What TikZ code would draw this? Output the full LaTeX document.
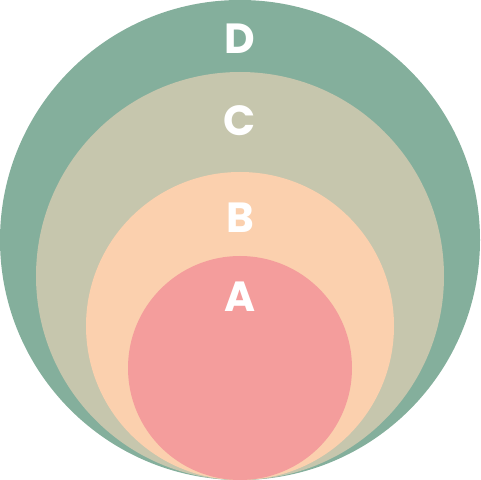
\documentclass[tikz,border=0pt]{standalone}
\usepackage{fontspec}
\setsansfont{Poppins}
\definecolor{ringD}{HTML}{84AF9C}
\definecolor{ringC}{HTML}{C6C6AD}
\definecolor{ringB}{HTML}{FBD0AE}
\definecolor{ringA}{HTML}{F49D9C}
\tikzset{ringlabel/.style={text=white, font=\sffamily\bfseries\fontsize{24}{28}\selectfont, inner sep=0pt}}
\begin{document}
\begin{tikzpicture}[x=0.02cm, y=0.02cm]
			%%%%% START %%%%%
			
			\useasboundingbox (0, 0) rectangle (480, 480);
			
			\fill[ringD] (240, 240) circle [radius=240];
			\fill[ringC] (240, 204) circle [radius=204];
			\fill[ringB] (240, 154) circle [radius=154];
			\fill[ringA] (240, 112) circle [radius=112];
			
			\node[ringlabel] (labD) at (240, 441) {D};
			\node[ringlabel] (labC) at (240, 359) {C};
			\node[ringlabel] (labB) at (240, 262) {B};
			\node[ringlabel] (labA) at (240, 183) {A};
			
			%%%%% END %%%%%
\end{tikzpicture}
\end{document}
